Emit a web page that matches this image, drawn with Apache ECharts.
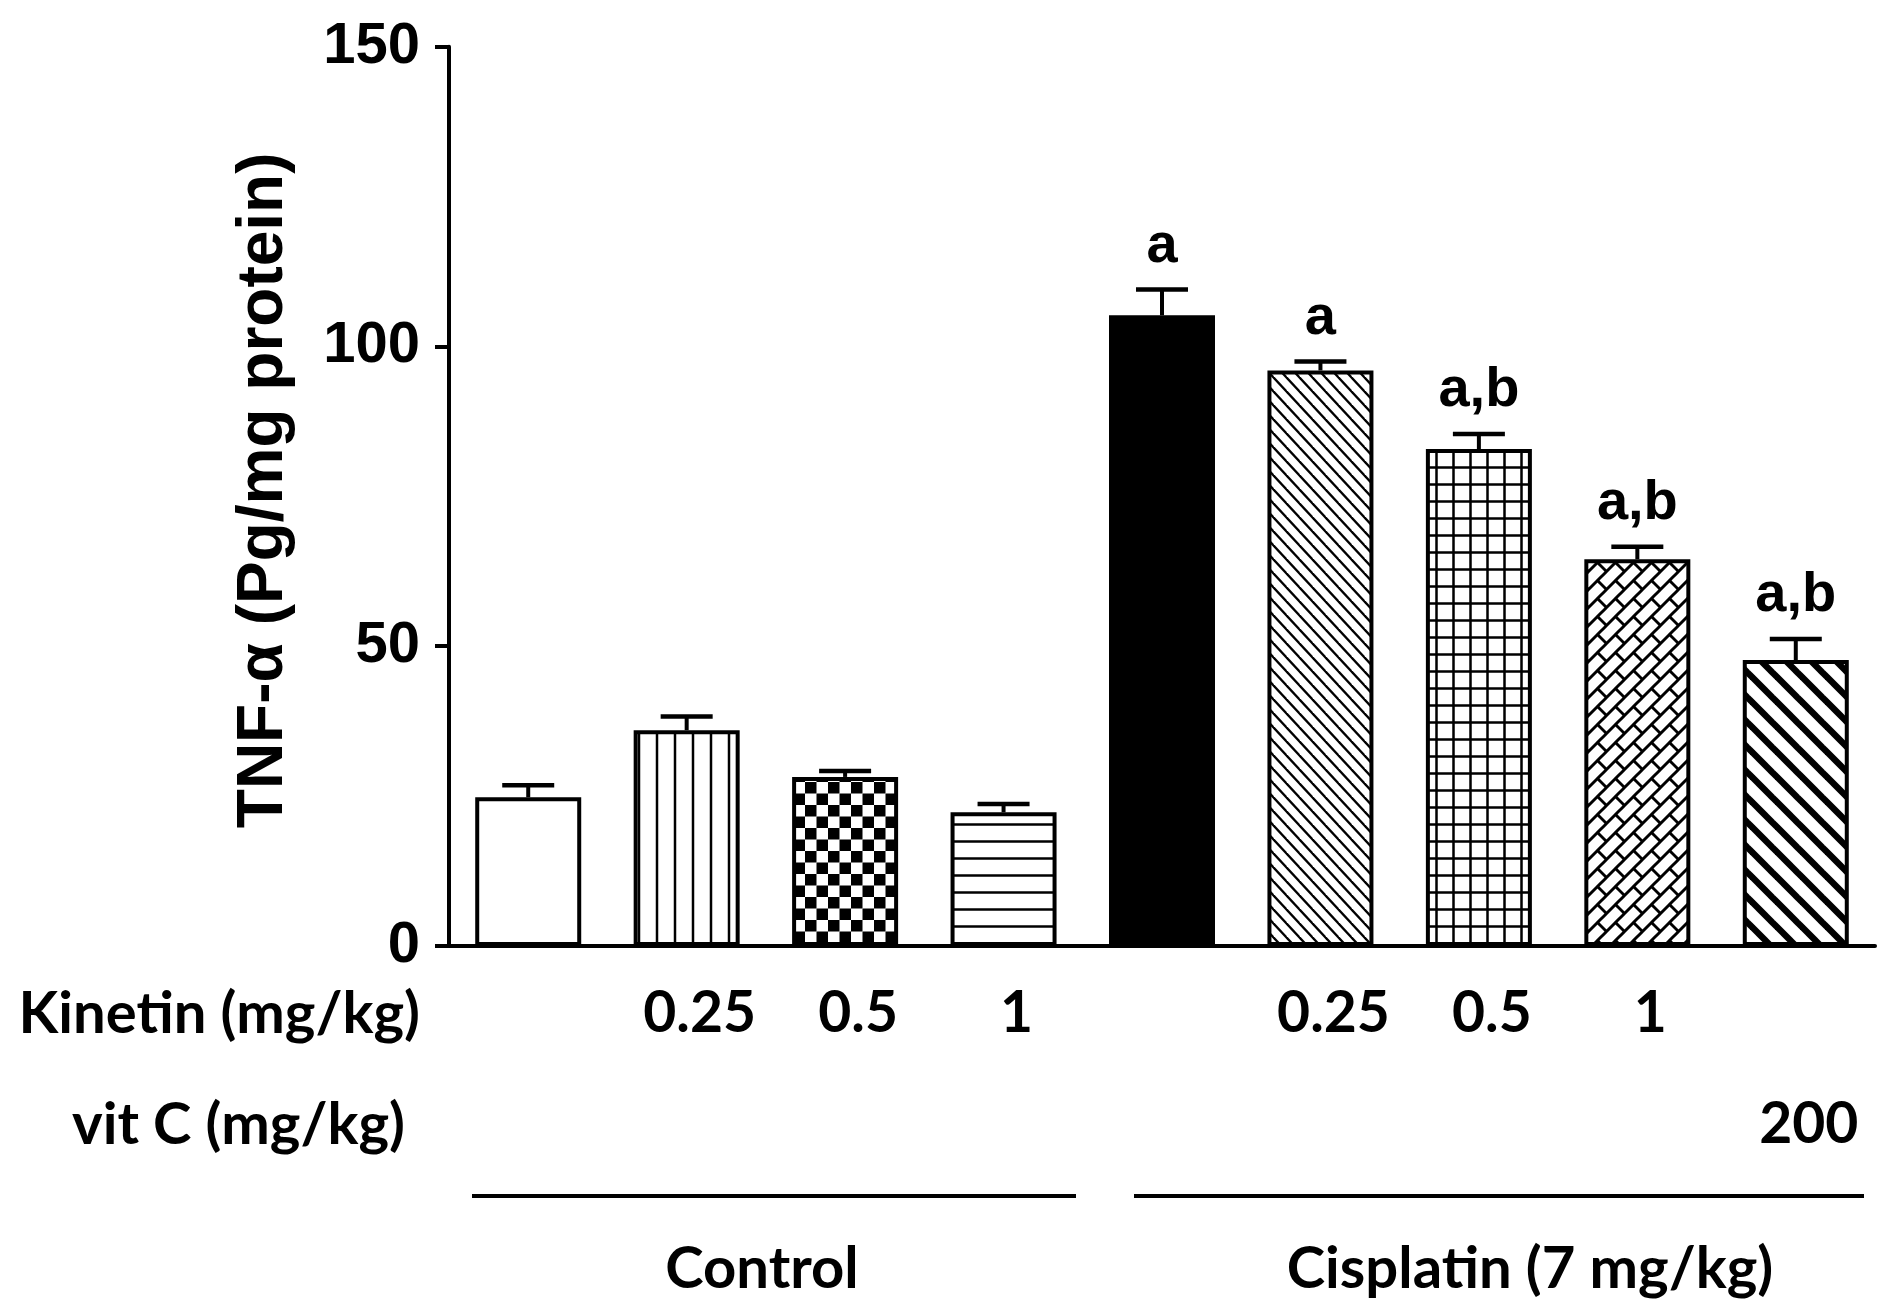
<!DOCTYPE html>
<html>
<head>
<meta charset="utf-8">
<style>
  html, body { margin: 0; padding: 0; background: #fff; }
  #chart { width: 1899px; height: 1314px; }
</style>
<script src="https://cdn.jsdelivr.net/npm/echarts@6/dist/echarts.min.js"></script>
</head>
<body>
<div id="chart"></div>
<script>
// ---- data ----
const categories = ['Control', 'Kinetin 0.25', 'Kinetin 0.5', 'Kinetin 1', 'Cisplatin',
  'Cisplatin + Kinetin 0.25', 'Cisplatin + Kinetin 0.5', 'Cisplatin + Kinetin 1', 'Cisplatin + vit C 200'];
const tnfValues = [24.8, 36.0, 28.2, 22.3, 105.2, 96.0, 82.9, 64.5, 47.7];
const tnfErrors = [2.0, 2.3, 1.0, 1.4, 4.3, 1.5, 2.5, 2.1, 3.5];
const sigLabels = ['', '', '', '', 'a', 'a', 'a,b', 'a,b', 'a,b'];
const kinetinDose = ['', '0.25', '0.5', '1', '', '0.25', '0.5', '1', ''];
const vitCDose = ['', '', '', '', '', '', '', '', '200'];
const yTicks = [0, 50, 100, 150];

// ---- patterns ----
function tile(w, h, draw) {
  const c = document.createElement('canvas');
  c.width = w; c.height = h;
  const g = c.getContext('2d');
  g.fillStyle = '#fff'; g.fillRect(0, 0, w, h);
  g.strokeStyle = '#000'; g.fillStyle = '#000';
  draw(g, w, h);
  return { image: c, repeat: 'repeat' };
}
function diag(W, H, lw) {
  return tile(W, H, function (g) {
    g.lineWidth = lw;
    for (let k = -3; k <= 3; k++) {
      g.beginPath(); g.moveTo(-W, -H + k * H); g.lineTo(2 * W, 2 * H + k * H); g.stroke();
    }
  });
}
const patterns = [
  '#ffffff',
  tile(18, 18, function (g) { g.lineWidth = 2.5; g.beginPath(); g.moveTo(9, 0); g.lineTo(9, 18); g.stroke(); }),
  tile(23, 23, function (g) { g.fillRect(0, 0, 11.5, 11.5); g.fillRect(11.5, 11.5, 11.5, 11.5); }),
  tile(17, 17, function (g) { g.lineWidth = 2.5; g.beginPath(); g.moveTo(0, 8.5); g.lineTo(17, 8.5); g.stroke(); }),
  '#000000',
  diag(13, 14, 2.3),
  tile(17, 17, function (g) {
    g.lineWidth = 2.5; g.beginPath();
    g.moveTo(8.5, 0); g.lineTo(8.5, 17); g.moveTo(0, 8.5); g.lineTo(17, 8.5); g.stroke();
  }),
  tile(18, 18, function (g, T) {
    g.lineWidth = 3;
    [0, T, 2 * T].forEach(function (c) {
      g.beginPath(); g.moveTo(-T, c + T); g.lineTo(c + T, -T); g.stroke();
    });
    [-T, 0, T].forEach(function (dx) {
      [-T, 0, T].forEach(function (dy) {
        g.beginPath();
        g.moveTo(0.75 * T + dx, 0.25 * T + dy); g.lineTo(1.25 * T + dx, 0.75 * T + dy);
        g.stroke();
      });
    });
  }),
  diag(25, 25, 6.5)
];

const chart = echarts.init(document.getElementById('chart'));

const option = {
  backgroundColor: '#ffffff',
  animation: false,
  grid: { left: 449, width: 1426, top: 46.7, bottom: 368, containLabel: false },
  xAxis: {
    type: 'category',
    data: categories,
    boundaryGap: true,
    axisLine: { lineStyle: { color: '#000', width: 4 } },
    axisTick: { show: false },
    axisLabel: {
      interval: 0,
      margin: 12,
      padding: [0, 0, 0, 26],
      fontFamily: 'Lato',
      fontWeight: 'bold',
      fontSize: 57,
      lineHeight: 111,
      color: '#000',
      formatter: function (v, i) { return (kinetinDose[i] || ' ') + '\n' + (vitCDose[i] || ' '); }
    }
  },
  yAxis: {
    type: 'value',
    min: yTicks[0],
    max: yTicks[yTicks.length - 1],
    interval: 50,
    name: 'TNF-α (Pg/mg protein)',
    nameLocation: 'middle',
    nameRotate: 90,
    nameGap: 153,
    nameTextStyle: { fontFamily: 'Liberation Sans', fontWeight: 'bold', fontSize: 64, color: '#000', padding: [0, 0, 0, 12] },
    splitLine: { show: false },
    axisLine: { show: true, lineStyle: { color: '#000', width: 4 } },
    axisTick: { show: true, length: 14, lineStyle: { color: '#000', width: 4 } },
    axisLabel: { margin: 29, fontFamily: 'Liberation Sans', fontWeight: 'bold', fontSize: 58, color: '#000' }
  },
  series: [
    {
      type: 'bar',
      barWidth: 106,
      data: tnfValues.map(function (v, i) {
        return { value: v, itemStyle: { color: patterns[i], borderColor: '#000', borderWidth: 4 } };
      }),
      z: 2
    },
    {
      type: 'custom',
      z: 3,
      data: tnfValues.map(function (v, i) { return [i, v, tnfErrors[i]]; }),
      renderItem: function (params, api) {
        const i = api.value(0), v = api.value(1), e = api.value(2);
        const base = api.coord([i, v]);
        const top = api.coord([i, v + e]);
        const half = 26;
        const children = [
          { type: 'line', shape: { x1: base[0], y1: base[1], x2: top[0], y2: top[1] }, style: { stroke: '#000', lineWidth: 4 } },
          { type: 'line', shape: { x1: top[0] - half, y1: top[1], x2: top[0] + half, y2: top[1] }, style: { stroke: '#000', lineWidth: 4.5 } }
        ];
        const lab = sigLabels[params.dataIndex];
        if (lab) {
          children.push({
            type: 'text',
            x: top[0], y: top[1] - 15,
            style: { text: lab, font: 'bold 56px "Liberation Sans", Arial', fill: '#000', textAlign: 'center', textVerticalAlign: 'bottom' }
          });
        }
        return { type: 'group', children: children };
      }
    }
  ],
  graphic: [
    { type: 'text', x: 420, y: 1014, style: { text: 'Kinetin (mg/kg)', font: 'bold 58px Lato', fill: '#000', textAlign: 'right', textVerticalAlign: 'middle' } },
    { type: 'text', x: 405, y: 1125, style: { text: 'vit C (mg/kg)', font: 'bold 58px Lato', fill: '#000', textAlign: 'right', textVerticalAlign: 'middle' } },
    { type: 'line', shape: { x1: 472, y1: 1196, x2: 1076, y2: 1196 }, style: { stroke: '#000', lineWidth: 4 } },
    { type: 'line', shape: { x1: 1134, y1: 1196, x2: 1864, y2: 1196 }, style: { stroke: '#000', lineWidth: 4 } },
    { type: 'text', x: 762, y: 1269, style: { text: 'Control', font: 'bold 58px Lato', fill: '#000', textAlign: 'center', textVerticalAlign: 'middle' } },
    { type: 'text', x: 1530, y: 1269, style: { text: 'Cisplatin (7 mg/kg)', font: 'bold 58px Lato', fill: '#000', textAlign: 'center', textVerticalAlign: 'middle' } }
  ]
};
chart.setOption(option);
</script>
</body>
</html>
